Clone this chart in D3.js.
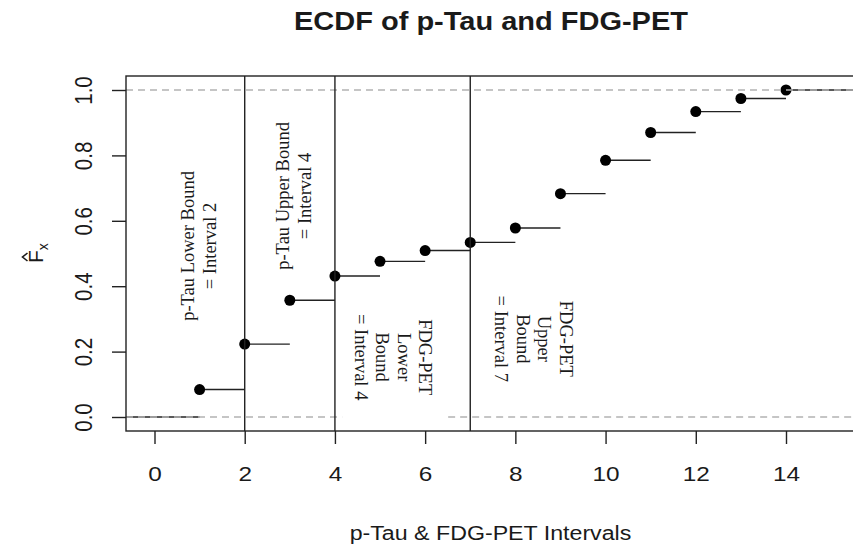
<!DOCTYPE html>
<html>
<head>
<meta charset="utf-8">
<script src="https://cdn.jsdelivr.net/npm/d3@7"></script>
<style>
  body { margin: 0; background: #fff; }
  text { font-family: "Liberation Sans", Arial, sans-serif; fill: #1a1a1a; }
  .note { font-family: "Liberation Serif", "Times New Roman", serif; font-size: 18.5px; }
</style>
</head>
<body>
<svg id="chart" width="853" height="546"></svg>
<script>
// ECDF steps: interval index and cumulative proportion
var intervals = [1, 2, 3, 4, 5, 6, 7, 8, 9, 10, 11, 12, 13, 14];
var ecdfValues = [0.084, 0.223, 0.357, 0.431, 0.476, 0.509, 0.534, 0.578, 0.683, 0.785, 0.870, 0.934, 0.974, 1.0];

var xTicks = [0, 2, 4, 6, 8, 10, 12, 14];
var yTicks = [0, 0.2, 0.4, 0.6, 0.8, 1.0];
var yTickLabels = ["0.0", "0.2", "0.4", "0.6", "0.8", "1.0"];

// vertical bound markers
var boundLines = [2, 4, 7];
// grey reference lines (h = 0 and h = 1); the 0 line is broken under the legend
var refLevels = [0, 1];
var refGap = [4.16, 6.51];

var notes = [
  {x: 0.99, y: 0.523, rot: -90, lines: ["p-Tau Lower Bound", "= Interval 2"]},
  {x: 3.09, y: 0.676, rot: -90, lines: ["p-Tau Upper Bound", "= Interval 4"]},
  {x: 5.29, y: 0.183, rot: 90, lines: ["FDG-PET", "Lower", "Bound", "= Interval 4"]},
  {x: 8.40, y: 0.239, rot: 90, lines: ["FDG-PET", "Upper", "Bound", "= Interval 7"]}
];

var svg = d3.select("#chart");
var box = {left: 126, top: 76, right: 900, bottom: 431};
var stretch = 1.16; // the source image is a little wider than tall

var x = d3.scaleLinear().domain([0, 14]).range([154.5, 786]);
var y = d3.scaleLinear().domain([0, 1]).range([417, 90]);
var xMin = x.invert(box.left), xMax = x.invert(box.right);

svg.append("clipPath").attr("id", "plotclip")
  .append("rect").attr("x", box.left).attr("y", box.top)
  .attr("width", box.right - box.left).attr("height", box.bottom - box.top);

var plot = svg.append("g").attr("clip-path", "url(#plotclip)");

// horizontal steps
var steps = [{x0: xMin, x1: intervals[0], v: 0}];
intervals.forEach(function(d, i) {
  steps.push({x0: d, x1: i < intervals.length - 1 ? intervals[i + 1] : xMax, v: ecdfValues[i]});
});
plot.selectAll(".step").data(steps).enter().append("line")
  .attr("x1", function(d) { return x(d.x0); })
  .attr("x2", function(d) { return x(d.x1); })
  .attr("y1", function(d) { return y(d.v); })
  .attr("y2", function(d) { return y(d.v); })
  .attr("stroke", "#222").attr("stroke-width", 1.4);

plot.selectAll(".pt").data(intervals).enter().append("circle")
  .attr("cx", function(d) { return x(d); })
  .attr("cy", function(d, i) { return y(ecdfValues[i]); })
  .attr("r", 5.5).attr("fill", "#000");

// dashed reference lines
refLevels.forEach(function(v) {
  var segs = v === 0 ? [[xMin, refGap[0]], [refGap[1], xMax]] : [[xMin, xMax]];
  segs.forEach(function(s) {
    plot.append("line")
      .attr("x1", x(s[0])).attr("x2", x(s[1]))
      .attr("y1", y(v)).attr("y2", y(v))
      .attr("stroke", "#b3b3b3").attr("stroke-width", 1.4)
      .attr("stroke-dasharray", "7,5");
  });
});

plot.selectAll(".bound").data(boundLines).enter().append("line")
  .attr("x1", function(d) { return x(d); })
  .attr("x2", function(d) { return x(d); })
  .attr("y1", box.top).attr("y2", box.bottom)
  .attr("stroke", "#222").attr("stroke-width", 1.4);

// plot frame
svg.append("rect")
  .attr("x", box.left).attr("y", box.top)
  .attr("width", box.right - box.left).attr("height", box.bottom - box.top)
  .attr("fill", "none").attr("stroke", "#222").attr("stroke-width", 1.4);

// axes
var xAxis = svg.append("g").attr("transform", "translate(0," + box.bottom + ")")
  .call(d3.axisBottom(x).tickValues(xTicks).tickSize(13));
xAxis.select(".domain").remove();
xAxis.selectAll("line").attr("stroke", "#222").attr("stroke-width", 1.4);
xAxis.selectAll("text").remove();
xAxis.selectAll(".tick").append("text")
  .attr("transform", "translate(0,50) scale(" + stretch + ",1)")
  .attr("text-anchor", "middle").attr("font-size", "21px")
  .text(function(d) { return d; });

var yAxis = svg.append("g").attr("transform", "translate(" + box.left + ",0)")
  .call(d3.axisLeft(y).tickValues(yTicks).tickSize(14));
yAxis.select(".domain").remove();
yAxis.selectAll("line").attr("stroke", "#222").attr("stroke-width", 1.4);
yAxis.selectAll("text").remove();
yAxis.selectAll(".tick").append("text")
  .attr("transform", "translate(-42,0) scale(" + stretch + ",1) rotate(-90)")
  .attr("text-anchor", "middle").attr("dominant-baseline", "central")
  .attr("font-size", "20.5px")
  .text(function(d, i) { return yTickLabels[i]; });

// titles
svg.append("text")
  .attr("transform", "translate(491,30) scale(" + stretch + ",1)")
  .attr("text-anchor", "middle").attr("font-weight", "bold").attr("font-size", "25px")
  .text("ECDF of p-Tau and FDG-PET");

svg.append("text")
  .attr("transform", "translate(490.5,540) scale(" + stretch + ",1)")
  .attr("text-anchor", "middle").attr("font-size", "20px")
  .text("p-Tau & FDG-PET Intervals");

// y label: F-hat with subscript x
var ylab = svg.append("g").attr("transform", "translate(43,256) rotate(-90)");
var fx = ylab.append("text").attr("x", -7).attr("y", 0).attr("font-size", "21px");
fx.append("tspan").text("F");
fx.append("tspan").attr("dy", 5).attr("font-size", "14px").text("x");
ylab.append("path").attr("d", "M-5,-15.5 L-1,-20.5 L3,-15.5")
  .attr("fill", "none").attr("stroke", "#1a1a1a").attr("stroke-width", 1.6);

// rotated annotations
var lineGap = 21.5;
notes.forEach(function(n) {
  var t = svg.append("text").attr("class", "note")
    .attr("transform", "translate(" + x(n.x) + "," + y(n.y) + ") rotate(" + n.rot + ")")
    .attr("text-anchor", "middle");
  var off = -(n.lines.length - 1) / 2 * lineGap;
  n.lines.forEach(function(l, i) {
    t.append("tspan").attr("x", 0).attr("y", off + i * lineGap)
      .attr("dominant-baseline", "central").text(l);
  });
});
</script>
</body>
</html>
